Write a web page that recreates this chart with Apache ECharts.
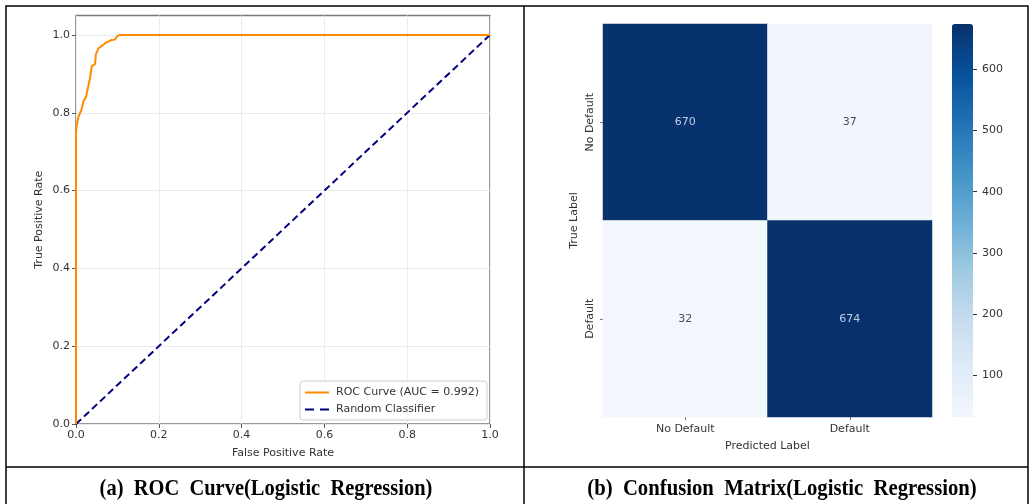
<!DOCTYPE html>
<html>
<head>
<meta charset="utf-8">
<script src="https://cdn.jsdelivr.net/npm/echarts@6/dist/echarts.min.js"></script>
<style>
  html, body { margin: 0; padding: 0; background: #ffffff; }
  #chart { width: 1030px; height: 504px; }
</style>
</head>
<body>
<div id="chart"></div>
<script>
// ---- ROC curve data ----
const rocFpr = [0, 0, 0.002, 0.006, 0.010, 0.014, 0.018, 0.024, 0.028, 0.034, 0.038, 0.046, 0.048, 0.054, 0.060, 0.066, 0.072, 0.078, 0.086, 0.094, 0.098, 0.105, 1.0];
const rocTpr = [0, 0.75, 0.77, 0.79, 0.80, 0.81, 0.83, 0.84, 0.86, 0.89, 0.92, 0.925, 0.95, 0.965, 0.97, 0.975, 0.98, 0.983, 0.987, 0.988, 0.995, 1.0, 1.0];
const randomFpr = [0, 1];
const randomTpr = [0, 1];
const rocTicks = [0, 0.2, 0.4, 0.6, 0.8, 1.0];
const rocLabel = 'ROC Curve (AUC = 0.992)';
const randomLabel = 'Random Classifier';

// ---- Confusion matrix data ----
const predictedLabels = ['No Default', 'Default'];
const trueLabels = ['No Default', 'Default'];
const cmNoDefaultRow = [670, 37];
const cmDefaultRow = [32, 674];
const colorbarTicks = [100, 200, 300, 400, 500, 600];

const captionA = '(a)  ROC  Curve(Logistic  Regression)';
const captionB = '(b)  Confusion  Matrix(Logistic  Regression)';

const blues = ['#f2f7fd', '#deebf7', '#c6dbef', '#9ecae1', '#6baed6', '#4292c6', '#2171b5', '#08519c', '#08306b'];

const rocData = rocFpr.map((x, i) => [x, rocTpr[i]]);
const randomData = randomFpr.map((x, i) => [x, randomTpr[i]]);
const cmRows = [cmNoDefaultRow, cmDefaultRow];
const heatData = [];
cmRows.forEach((row, yi) => row.forEach((v, xi) => heatData.push([xi, yi, v])));
const allVals = heatData.map(d => d[2]);
const cmMin = Math.min(...allVals), cmMax = Math.max(...allVals);

const FONT = 'DejaVu Sans';
const txt = '#333333';

const chart = echarts.init(document.getElementById('chart'), null, { renderer: 'canvas' });

const option = {
  backgroundColor: '#ffffff',
  animation: false,
  textStyle: { fontFamily: FONT },
  grid: [
    { left: 76, top: 15.5, width: 414, height: 408.5, show: true, borderColor: '#7a7a7a', borderWidth: 1.5, backgroundColor: 'transparent' },
    { left: 603, top: 24, width: 329, height: 393 },
    { left: 952, top: 24, width: 21, height: 393 }
  ],
  xAxis: [
    {
      type: 'value', gridIndex: 0, min: 0, max: 1,
      name: 'False Positive Rate', nameLocation: 'middle', nameGap: 24,
      nameTextStyle: { fontSize: 11, color: txt, fontFamily: FONT },
      axisLine: { show: false },
      axisTick: { show: true, length: 4, lineStyle: { color: '#555' }, customValues: rocTicks },
      axisLabel: { fontSize: 11, color: txt, margin: 6, formatter: v => v.toFixed(1), customValues: rocTicks, showMinLabel: true, showMaxLabel: true },
      splitLine: { show: true, lineStyle: { color: '#ebebeb', width: 1 } }
    },
    {
      type: 'category', gridIndex: 1, data: predictedLabels,
      name: 'Predicted Label', nameLocation: 'middle', nameGap: 24,
      nameTextStyle: { fontSize: 11, color: txt, fontFamily: FONT },
      axisLine: { show: false },
      axisTick: { show: true, alignWithLabel: true, length: 3, lineStyle: { color: '#777' } },
      axisLabel: { fontSize: 11, color: txt, margin: 7 },
      splitLine: { show: false }
    },
    {
      type: 'value', gridIndex: 2, min: 0, max: 1, show: false
    }
  ],
  yAxis: [
    {
      type: 'value', gridIndex: 0, min: 0, max: 1.05,
      name: 'True Positive Rate', nameLocation: 'middle', nameGap: 31, nameRotate: 90,
      nameTextStyle: { fontSize: 11, color: txt, fontFamily: FONT },
      axisLine: { show: false },
      axisTick: { show: true, length: 4, lineStyle: { color: '#555' }, customValues: rocTicks },
      axisLabel: { fontSize: 11, color: txt, margin: 6, formatter: v => v.toFixed(1), customValues: rocTicks },
      splitLine: { show: true, lineStyle: { color: '#ebebeb', width: 1 } }
    },
    {
      type: 'category', gridIndex: 1, data: trueLabels, inverse: true,
      name: 'True Label', nameLocation: 'middle', nameGap: 23, nameRotate: 90,
      nameTextStyle: { fontSize: 11, color: txt, fontFamily: FONT },
      axisLine: { show: false },
      axisTick: { show: true, alignWithLabel: true, length: 3, lineStyle: { color: '#777' } },
      axisLabel: { fontSize: 11, color: txt, margin: 7, rotate: 90 },
      splitLine: { show: false }
    },
    {
      type: 'value', gridIndex: 2, min: cmMin, max: cmMax, position: 'left', offset: -21, z: 10,
      axisLine: { show: false },
      axisTick: { show: true, length: 4, inside: true, lineStyle: { color: '#333', width: 1 }, customValues: colorbarTicks },
      axisLabel: { fontSize: 11, color: txt, margin: 9, inside: true, customValues: colorbarTicks },
      splitLine: { show: false }
    }
  ],
  legend: {
    orient: 'vertical',
    left: 300, top: 381,
    padding: [5, 8, 4, 5],
    itemGap: 4,
    itemWidth: 24, itemHeight: 2,
    borderColor: '#cccccc', borderWidth: 1, borderRadius: 3,
    backgroundColor: 'rgba(255,255,255,0.85)',
    textStyle: { fontSize: 11, color: txt, fontFamily: FONT, padding: [0, 0, 0, 2], lineHeight: 13 },
    data: [
      { name: rocLabel, icon: 'path://M0,0H24V2H0Z', itemStyle: { color: '#ff8c00' } },
      { name: randomLabel, icon: 'path://M0,0H9V2H0Z M15,0H24V2H15Z', itemStyle: { color: '#000080' } }
    ]
  },
  visualMap: {
    type: 'continuous',
    min: cmMin, max: cmMax,
    seriesIndex: 2,
    left: 952, top: 24,
    padding: 0,
    itemWidth: 21, itemHeight: 393,
    calculable: false,
    text: null,
    hoverLink: false,
    inRange: { color: blues }
  },
  series: [
    {
      name: rocLabel, type: 'line', xAxisIndex: 0, yAxisIndex: 0,
      data: rocData, showSymbol: false, symbol: 'none', z: 3,
      lineStyle: { color: '#ff8c00', width: 2 }, itemStyle: { color: '#ff8c00' }
    },
    {
      name: randomLabel, type: 'line', xAxisIndex: 0, yAxisIndex: 0,
      data: randomData, showSymbol: false, symbol: 'none', z: 2,
      lineStyle: { color: '#000080', width: 2, type: [7, 4] }, itemStyle: { color: '#000080' }
    },
    {
      name: 'cm', type: 'heatmap', xAxisIndex: 1, yAxisIndex: 1,
      data: heatData,
      itemStyle: { borderWidth: 0 },
      label: {
        show: true,
        formatter: p => (p.value[2] > (cmMin + cmMax) / 2 ? '{d|' : '{l|') + p.value[2] + '}',
        rich: {
          d: { color: '#c0cce4', fontSize: 11, fontFamily: FONT },
          l: { color: '#4d4d4d', fontSize: 11, fontFamily: FONT }
        }
      },
      emphasis: { disabled: true }
    }
  ],
  graphic: [
    { type: 'rect', shape: { x: 6, y: 6, width: 1022, height: 520 }, style: { fill: 'none', stroke: '#000', lineWidth: 1.5 }, silent: true, z: 100 },
    { type: 'line', shape: { x1: 524, y1: 6, x2: 524, y2: 504 }, style: { stroke: '#000', lineWidth: 1.5 }, silent: true, z: 100 },
    { type: 'line', shape: { x1: 6, y1: 467, x2: 1028, y2: 467 }, style: { stroke: '#000', lineWidth: 1.5 }, silent: true, z: 100 },
    { type: 'text', x: 266, y: 489, scaleX: 0.89, originX: 0, style: { text: captionA, font: 'bold 23px "Liberation Serif"', fill: '#000', align: 'center', verticalAlign: 'middle' }, z: 100 },
    { type: 'text', x: 782, y: 489, scaleX: 0.9, originX: 0, style: { text: captionB, font: 'bold 23px "Liberation Serif"', fill: '#000', align: 'center', verticalAlign: 'middle' }, z: 100 }
  ]
};

chart.setOption(option);
</script>
</body>
</html>
